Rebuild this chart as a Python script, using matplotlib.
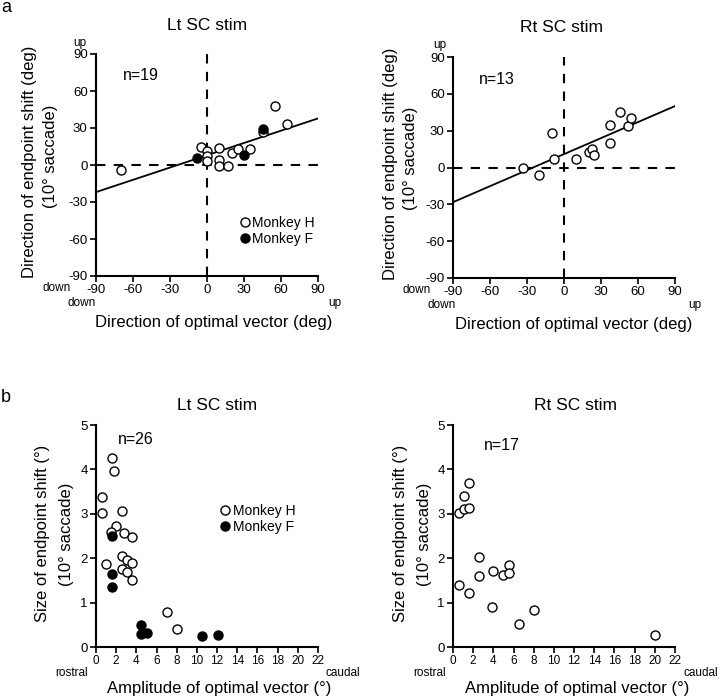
import numpy as np
import matplotlib
matplotlib.use("Agg")
import matplotlib.pyplot as plt

plt.rcParams['font.family'] = ['Liberation Sans', 'DejaVu Sans']
plt.rcParams['axes.unicode_minus'] = False

# panel a, left (Lt SC stim)
lt_dir_h_x = [-70, -5, 0, 0, 0, 10, 10, 10, 17, 20, 25, 35, 55, 65, 45]
lt_dir_h_y = [-4, 15, 11, 7, 3, 14, 4, -1, -1, 10, 13, 13, 48, 33, 27]
lt_dir_f_x = [-8, 30, 45]
lt_dir_f_y = [6, 8, 29]
lt_fit = (0.332, 7.9)

# panel a, right (Rt SC stim)
rt_dir_x = [-33, -20, -10, -8, 10, 20, 23, 24, 37, 37, 45, 52, 54]
rt_dir_y = [0, -6, 28, 7, 7, 13, 15, 10, 35, 20, 45, 34, 40]
rt_fit = (0.435, 10.9)

# panel b, left
lt_amp_h_x = [1.55, 1.8, 0.55, 0.55, 2.55, 2.0, 1.5, 2.8, 3.55, 1.0, 2.55, 3.05, 3.55,
              2.55, 3.05, 3.55, 7.0, 8.0]
lt_amp_h_y = [4.26, 3.97, 3.37, 3.01, 3.06, 2.72, 2.58, 2.57, 2.48, 1.86, 2.04, 1.97,
              1.89, 1.76, 1.68, 1.50, 0.78, 0.40]
lt_amp_f_x = [1.55, 1.55, 1.55, 4.5, 4.5, 5.05, 10.5, 12.1]
lt_amp_f_y = [2.50, 1.65, 1.36, 0.50, 0.30, 0.32, 0.24, 0.27]

# panel b, right
rt_amp_x = [1.55, 1.05, 0.55, 1.05, 1.55, 2.55, 2.55, 4.0, 5.0, 5.55, 5.55, 0.55,
            1.55, 3.85, 8.0, 6.55, 20.0]
rt_amp_y = [3.69, 3.40, 3.01, 3.10, 3.13, 2.02, 1.59, 1.72, 1.63, 1.84, 1.67, 1.40,
            1.21, 0.90, 0.84, 0.51, 0.28]

W, H = 720, 697
fig = plt.figure(figsize=(W / 100, H / 100), dpi=100)


def box(x0, y0, x1, y1):
    return [x0 / W, 1 - y1 / H, (x1 - x0) / W, (y1 - y0) / H]


def ftext(x, y, s, **kw):
    fig.text(x / W, 1 - y / H, s, **kw)


def style(ax, xfs, yfs):
    for side in ['top', 'right']:
        ax.spines[side].set_visible(False)
    for side in ['left', 'bottom']:
        ax.spines[side].set_linewidth(1.5)
    ax.tick_params(direction='out', length=4, width=1.2, pad=2)
    ax.tick_params(axis='x', labelsize=xfs)
    ax.tick_params(axis='y', labelsize=yfs)


open_kw = dict(ls='none', marker='o', ms=6.5, mfc='white', mec='black', mew=1.0, clip_on=False)
fill_kw = dict(ls='none', marker='o', ms=6.5, mfc='black', mec='black', mew=1.0, clip_on=False)


def direction_axes(rect):
    ax = fig.add_axes(rect)
    ax.set_xlim(-90, 90)
    ax.set_ylim(-90, 90)
    ax.set_xticks(np.arange(-90, 91, 30))
    ax.set_yticks(np.arange(-90, 91, 30))
    style(ax, 9.5, 9.5)
    ax.axhline(0, color='black', lw=1.5, dashes=(4.5, 4))
    ax.axvline(0, color='black', lw=1.5, dashes=(4.5, 4))
    return ax


def amp_axes(rect):
    ax = fig.add_axes(rect)
    ax.set_xlim(0, 22)
    ax.set_ylim(0, 5)
    ax.set_xticks(np.arange(0, 23, 2))
    ax.set_yticks(np.arange(0, 6, 1))
    style(ax, 8.5, 9.5)
    return ax


# ---- a left
ax1 = direction_axes(box(96, 54, 318, 276))
xs = np.array([-90, 90])
ax1.plot(xs, lt_fit[0] * xs + lt_fit[1], color='black', lw=1.3)
ax1.plot(lt_dir_h_x, lt_dir_h_y, label='Monkey H', **open_kw)
ax1.plot(lt_dir_f_x, lt_dir_f_y, label='Monkey F', **fill_kw)
ax1.legend(loc='upper left', bbox_to_anchor=(240 / W, 1 - 216 / H), bbox_transform=fig.transFigure,
           frameon=False, fontsize=10, handlelength=0.7, handletextpad=0.2, borderpad=0,
           labelspacing=0.15, borderaxespad=0)

# ---- a right
ax2 = direction_axes(box(453, 57, 675, 278))
ax2.plot(xs, rt_fit[0] * xs + rt_fit[1], color='black', lw=1.3)
ax2.plot(rt_dir_x, rt_dir_y, **open_kw)

# ---- b left
ax3 = amp_axes(box(96, 425, 318, 647))
ax3.plot(lt_amp_h_x, lt_amp_h_y, label='Monkey H', **open_kw)
ax3.plot(lt_amp_f_x, lt_amp_f_y, label='Monkey F', **fill_kw)
ax3.legend(loc='upper left', bbox_to_anchor=(220 / W, 1 - 504 / H), bbox_transform=fig.transFigure,
           frameon=False, fontsize=10, handlelength=0.7, handletextpad=0.2, borderpad=0,
           labelspacing=0.15, borderaxespad=0)

# ---- b right
ax4 = amp_axes(box(453, 425, 675, 647))
ax4.plot(rt_amp_x, rt_amp_y, **open_kw)

# text
ftext(1, 12, 'a', fontsize=13, va='baseline')
ftext(1, 402, 'b', fontsize=13, va='baseline')

ftext(207, 26, 'Lt SC stim', fontsize=12.5, ha='center', va='center')
ftext(561, 28, 'Rt SC stim', fontsize=12.5, ha='center', va='center')
ftext(217, 406, 'Lt SC stim', fontsize=12.5, ha='center', va='center')
ftext(576, 405, 'Rt SC stim', fontsize=12.5, ha='center', va='center')

ftext(123, 76, 'n=19', fontsize=11.5, va='center')
ftext(479, 80, 'n=13', fontsize=11.5, va='center')
ftext(118, 440, 'n=26', fontsize=11.5, va='center')
ftext(484, 445, 'n=17', fontsize=11.5, va='center')

for dx, dy in [(0, 0), (360, 2)]:
    ftext(80 + dx, 43 + dy, 'up', fontsize=8.5, ha='center', va='center')
    ftext(57 + dx, 288 + dy, 'down', fontsize=8.5, ha='center', va='center')
    ftext(82 + dx, 303 + dy, 'down', fontsize=8.5, ha='center', va='center')
    ftext(335 + dx, 303 + dy, 'up', fontsize=8.5, ha='center', va='center')
    ftext(214 + dx, 323 + dy, 'Direction of optimal vector (deg)', fontsize=12, ha='center', va='center')
    ftext(30 + dx, 162 + dy, 'Direction of endpoint shift (deg)', fontsize=12, rotation=90,
          ha='center', va='center')
    ftext(51 + dx, 156 + dy, '(10° saccade)', fontsize=12, rotation=90, ha='center', va='center')

for dx in [0, 358]:
    ftext(72 + dx, 673, 'rostral', fontsize=8.5, ha='center', va='center')
    ftext(343 + dx, 673, 'caudal', fontsize=8.5, ha='center', va='center')
    ftext(219 + dx, 688, 'Amplitude of optimal vector (°)', fontsize=12, ha='center', va='center')
    ftext(43 + dx, 533, 'Size of endpoint shift (°)', fontsize=12, rotation=90, ha='center', va='center')
    ftext(67 + dx, 534, '(10° saccade)', fontsize=12, rotation=90, ha='center', va='center')

fig.savefig('out.png', dpi=100)
